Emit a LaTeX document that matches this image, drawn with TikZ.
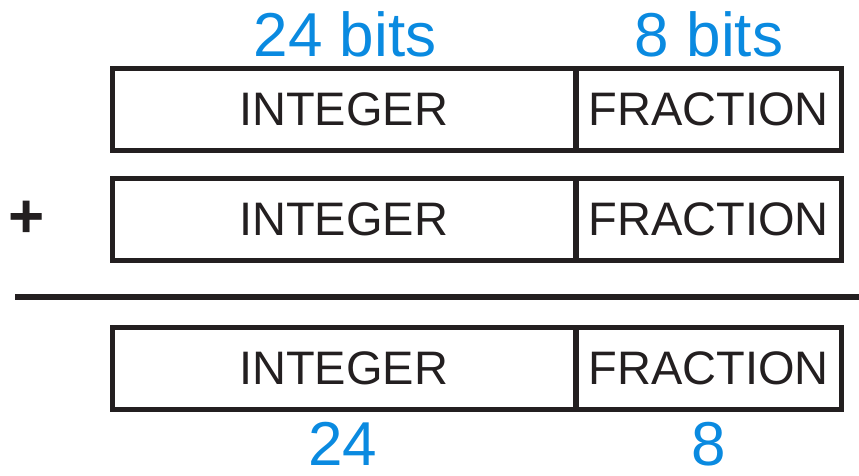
\documentclass[tikz,border=0pt]{standalone}
\usepackage{fontspec}
\setmainfont{Liberation Sans}
\definecolor{inkdark}{RGB}{35,31,32}
\definecolor{bitblue}{RGB}{10,138,224}
\begin{document}
\begin{tikzpicture}[x=1pt,y=-1pt,
  field/.style={draw=inkdark, line width=5pt, rectangle, inner sep=0pt,
    minimum height=82pt, text=inkdark,
    font=\fontsize{47}{51}\selectfont},
  intfield/.style={field, minimum width=463pt},
  fracfield/.style={field, minimum width=265pt},
  widthlabel/.style={text=bitblue, inner sep=0pt, anchor=base, text depth=0pt,
    font=\fontsize{62}{66}\selectfont}]
\useasboundingbox (0,0) rectangle (859,475);

% first operand
\node[intfield]  (int1)  at (343.5,109) {INTEGER};
\node[fracfield] (frac1) at (708.5,109) {FRACTION};

% second operand
\node[intfield]  (int2)  at (343.5,219) {INTEGER};
\node[fracfield] (frac2) at (708.5,219) {FRACTION};

% sum
\node[intfield]  (int3)  at (343.5,368) {INTEGER};
\node[fracfield] (frac3) at (708.5,368) {FRACTION};

% field widths
\node[widthlabel] (wint)  at (345,56) {24 bits};
\node[widthlabel] (wfrac) at (709,56) {8 bits};
\node[widthlabel] (rint)  at (343,465) {24};
\node[widthlabel] (rfrac) at (709,465) {8};

% plus sign and sum rule
\node[text=inkdark, inner sep=0pt, font=\fontsize{62}{66}\selectfont\bfseries]
  (plus) at (26.5,219) {+};
\coordinate (ruleL) at (15,297);
\coordinate (ruleR) at (859,297);
\draw[inkdark, line width=6pt] (ruleL) -- (ruleR);
\end{tikzpicture}
\end{document}
